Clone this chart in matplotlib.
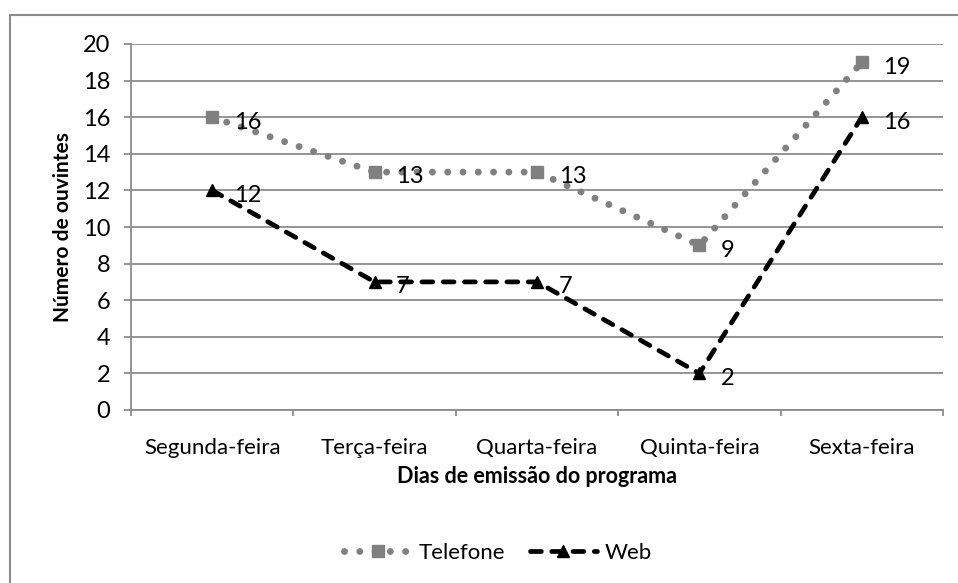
import matplotlib
matplotlib.use("Agg")
import matplotlib.pyplot as plt
from matplotlib.lines import Line2D
from matplotlib.patches import Rectangle

plt.rcParams['font.family'] = ['Lato', 'DejaVu Sans']

dias = ["Segunda-feira", "Terça-feira", "Quarta-feira", "Quinta-feira", "Sexta-feira"]
telefone = [16, 13, 13, 9, 19]
web = [12, 7, 7, 2, 16]
y_ticks = list(range(0, 21, 2))

GRID = "#8c8c8c"
TEL = "#808080"
FS = 17

fig = plt.figure(figsize=(9.58, 5.83), dpi=100)
ax = fig.add_axes([131 / 958, 1 - 410 / 583, (943 - 131) / 958, (410 - 44) / 583])

x = list(range(len(dias)))

tel_style = dict(color=TEL, lw=5.0, linestyle=(0, (0.001, 2.2)), dash_capstyle='round',
                 marker='s', markersize=9, markerfacecolor=TEL, markeredgecolor=TEL)
web_style = dict(color='black', lw=3.4, linestyle=(0, (2.3, 2.2)), dash_capstyle='round',
                 marker='^', markersize=8, markerfacecolor='black', markeredgecolor='black')

ax.plot(x, telefone, zorder=3, **tel_style)
ax.plot(x, web, zorder=4, **web_style)

for series in (telefone, web):
    for xi, v in zip(x, series):
        ax.annotate(str(v), (xi, v), xytext=(15.5, -3.5), textcoords='offset points',
                    ha='left', va='center', fontsize=FS, color='black', zorder=5)

ax.set_xlim(-0.5, len(dias) - 0.5)
ax.set_ylim(0, 20)
ax.set_yticks(y_ticks)
ax.set_yticklabels([str(t) for t in y_ticks], fontsize=FS)
ax.set_xticks(x)
ax.set_xticklabels(dias, fontsize=FS - 1)
ax.set_xticks([i - 0.5 for i in range(len(dias) + 1)], minor=True)

ax.grid(axis='y', color=GRID, lw=1.3, zorder=0)
ax.set_axisbelow(True)
for s in ('top', 'right'):
    ax.spines[s].set_visible(False)
for s in ('left', 'bottom'):
    ax.spines[s].set_color(GRID)
    ax.spines[s].set_linewidth(1.3)

ax.tick_params(axis='y', length=5, width=1.3, color=GRID, pad=10, labelcolor='black')
ax.tick_params(axis='x', which='major', length=0, pad=20, labelcolor='black')
ax.tick_params(axis='x', which='minor', length=4, width=1.3, color=GRID)

ax.set_xlabel("Dias de emissão do programa", fontsize=15.5, fontweight='bold', labelpad=6)
ax.set_ylabel("Número de ouvintes", fontsize=15, fontweight='bold', labelpad=7)

handles = [Line2D([], [], **tel_style), Line2D([], [], **web_style)]
fig.legend(handles, ["Telefone", "Web"], loc='center', bbox_to_anchor=(498 / 958, 1 - 553 / 583),
           ncol=2, frameon=False, fontsize=FS - 1, handlelength=3.0, handletextpad=0.35,
           columnspacing=1.1)

fig.patches.append(Rectangle((10 / 958, -0.1), 2, 1 - 15 / 583 + 0.1, transform=fig.transFigure,
                             fill=False, edgecolor=GRID, lw=1.5, zorder=0))

fig.savefig("out.png", dpi=100)
